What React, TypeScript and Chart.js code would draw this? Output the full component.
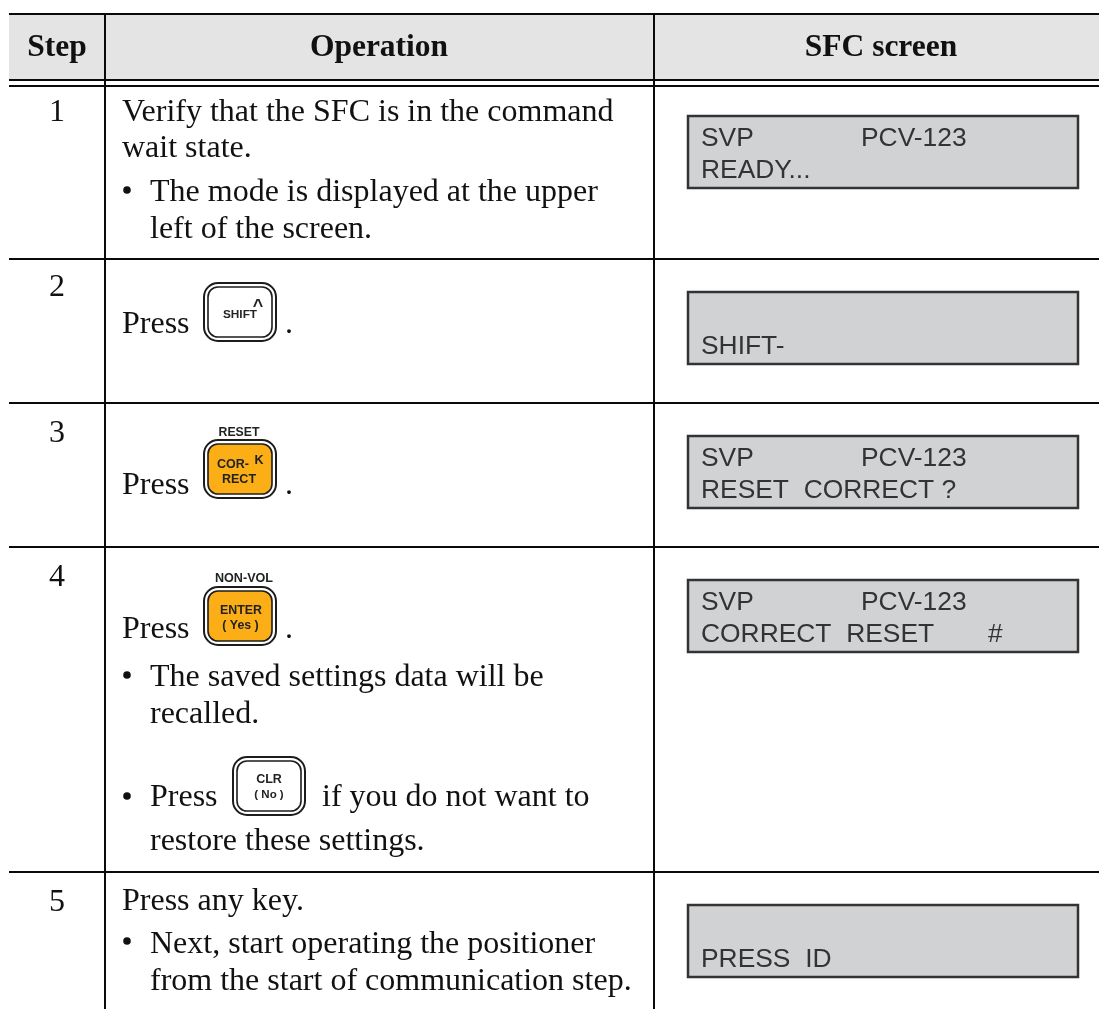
import React, { useEffect, useRef } from "react";
import { Chart, registerables } from "chart.js";

Chart.register(...registerables);

const headers = ["Step", "Operation", "SFC screen"];
const steps = ["1", "2", "3", "4", "5"];
const operationText = [
  "Verify that the SFC is in the command",
  "wait state.",
  "The mode is displayed at the upper",
  "left of the screen.",
  "Press",
  "Press",
  "Press",
  "The saved settings data will be",
  "recalled.",
  "Press",
  "if you do not want to",
  "restore these settings.",
  "Press any key.",
  "Next, start operating the positioner",
  "from the start of communication step.",
];
const screenLeft = ["SVP", "", "SVP", "SVP", ""];
const screenRight = ["PCV-123", "", "PCV-123", "PCV-123", ""];
const screenBottom = ["READY...", "SHIFT-", "RESET  CORRECT ?", "CORRECT  RESET", "PRESS  ID"];
const screenHash = ["", "", "", "#", ""];

const SERIF = '"Liberation Serif", serif';
const SANS = '"Liberation Sans", sans-serif';

// layout, in page pixels
const W = 1099;
const H = 1009;
const rowRules = [259, 403, 547, 872];
const stepBase = [121, 296, 442, 586, 911];
const boxTop = [116, 292, 436, 580, 905];
const opX = [122, 122, 150, 150, 122, 122, 122, 150, 150, 150, 322, 150, 122, 150, 150];
const opY = [121, 157, 201, 238, 333, 494, 638, 686, 723, 806, 806, 850, 910, 953, 990];
const bullets = [[127, 190], [127, 675], [127, 796], [127, 941]];
const dots = [[285, 333], [285, 494], [285, 638]];

const tablePlugin = {
  id: "table",
  beforeDraw(chart: any) {
    const c: CanvasRenderingContext2D = chart.ctx;
    const sx = (v: number) => chart.scales.x.getPixelForValue(v);
    const sy = (v: number) => chart.scales.y.getPixelForValue(v);
    const text = (s: string, x: number, y: number, font: string, color = "#111", align: CanvasTextAlign = "left") => {
      c.font = font;
      c.fillStyle = color;
      c.textAlign = align;
      c.textBaseline = "alphabetic";
      c.fillText(s, sx(x), sy(y));
    };
    const hline = (y: number, w: number) => {
      c.fillStyle = "#0a0a0a";
      c.fillRect(sx(9), sy(y), sx(W) - sx(9), w);
    };
    const rr = (x: number, y: number, w: number, h: number, r: number) => {
      c.beginPath();
      c.roundRect(sx(x), sy(y), w, h, r);
    };
    const key = (x: number, y: number, fill: string) => {
      rr(x, y, 72, 58, 14);
      c.fillStyle = "#fff";
      c.fill();
      c.strokeStyle = "#1c1c1c";
      c.lineWidth = 2;
      c.stroke();
      rr(x + 4, y + 4, 64, 50, 10);
      c.fillStyle = fill;
      c.fill();
      c.lineWidth = 1.6;
      c.stroke();
    };

    c.save();
    c.fillStyle = "#fff";
    c.fillRect(0, 0, W, H);
    c.fillStyle = "#e4e4e4";
    c.fillRect(sx(9), sy(14), sx(W) - sx(9), 66);

    hline(13, 2);
    hline(79, 2);
    hline(85, 2);
    rowRules.forEach((y) => hline(y - 1, 2));
    c.fillStyle = "#0a0a0a";
    c.fillRect(sx(104), sy(14), 2, H);
    c.fillRect(sx(653), sy(14), 2, H);

    text(headers[0], 57, 56, `bold 31.5px ${SERIF}`, "#111", "center");
    text(headers[1], 379, 56, `bold 31.5px ${SERIF}`, "#111", "center");
    text(headers[2], 881, 56, `bold 31.5px ${SERIF}`, "#111", "center");

    steps.forEach((s, i) => text(s, 57, stepBase[i], `32px ${SERIF}`, "#111", "center"));
    operationText.forEach((s, i) => text(s, opX[i], opY[i], `32px ${SERIF}`));
    bullets.forEach(([x, y]) => {
      c.fillStyle = "#111";
      c.beginPath();
      c.arc(sx(x), sy(y), 3.8, 0, Math.PI * 2);
      c.fill();
    });
    dots.forEach(([x, y]) => text(".", x, y, `32px ${SERIF}`));

    // keys
    key(204, 283, "#fff");
    text("SHIFT", 240, 318, `bold 11.8px ${SANS}`, "#222", "center");
    text("^", 258, 312, `bold 18px ${SANS}`, "#222", "center");

    text("RESET", 239, 436, `bold 12.3px ${SANS}`, "#222", "center");
    key(204, 440, "#fcae17");
    text("COR-", 233, 468, `bold 12.5px ${SANS}`, "#222", "center");
    text("K", 259, 464, `bold 12.5px ${SANS}`, "#222", "center");
    text("RECT", 239, 483, `bold 12.5px ${SANS}`, "#222", "center");

    text("NON-VOL", 244, 582, `bold 12.6px ${SANS}`, "#222", "center");
    key(204, 587, "#fcae17");
    text("ENTER", 241, 614, `bold 12.4px ${SANS}`, "#222", "center");
    text("( Yes )", 240.5, 629, `bold 12.4px ${SANS}`, "#222", "center");

    key(233, 757, "#fff");
    text("CLR", 269, 783, `bold 12.5px ${SANS}`, "#222", "center");
    text("( No )", 269, 798, `bold 11.5px ${SANS}`, "#222", "center");

    // screens
    boxTop.forEach((y, i) => {
      c.fillStyle = "#d0d2d3";
      c.fillRect(sx(688), sy(y), 390, 72);
      c.strokeStyle = "#333";
      c.lineWidth = 2.5;
      c.strokeRect(sx(688), sy(y), 390, 72);
      const font = `26.4px ${SANS}`;
      text(screenLeft[i], 701, y + 30, font, "#333");
      text(screenRight[i], 861, y + 30, font, "#333");
      text(screenBottom[i], 701, y + 62, font, "#333");
      text(screenHash[i], 988, y + 62, font, "#333");
    });
    c.restore();
  },
};

export default function App() {
  const ref = useRef<HTMLCanvasElement>(null);
  useEffect(() => {
    if (!ref.current) return;
    const chart = new Chart(ref.current, {
      type: "scatter",
      data: { datasets: [{ data: [] }] },
      options: {
        animation: false,
        responsive: false,
        layout: { padding: 0 },
        plugins: { legend: { display: false }, tooltip: { enabled: false } },
        scales: {
          x: { type: "linear", min: 0, max: W, display: false },
          y: { type: "linear", min: 0, max: H, reverse: true, display: false },
        },
      },
      plugins: [tablePlugin],
    });
    return () => chart.destroy();
  }, []);
  return (
    <div style={{ position: "absolute", left: 0, top: 0, width: W, height: H }}>
      <canvas ref={ref} width={W} height={H} style={{ display: "block" }} />
    </div>
  );
}
